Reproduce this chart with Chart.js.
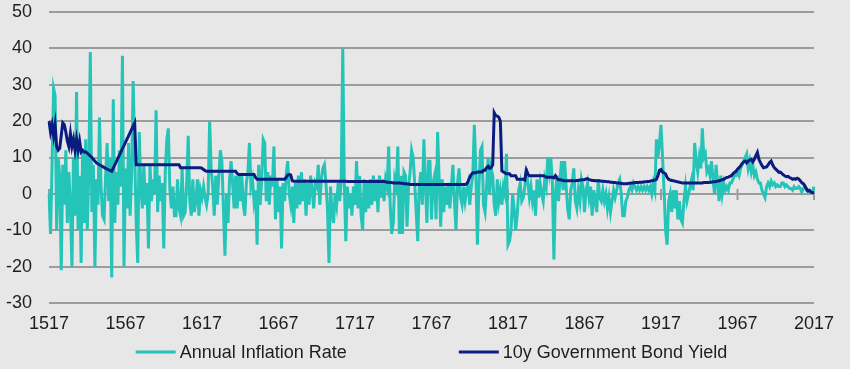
<!DOCTYPE html>
<html><head><meta charset="utf-8">
<script src="https://cdn.jsdelivr.net/npm/chart.js@4"></script>
<style>html,body{margin:0;padding:0;background:#e7e7e7;overflow:hidden}#wrap{width:850px;height:369px}</style>
</head><body><div id="wrap"><canvas id="c" width="850" height="369"></canvas></div>
<script>
const years = [];
for (let y = 1517; y <= 2017; y++) years.push(String(y));

const seriesNames = ['Annual Inflation Rate', '10y Government Bond Yield'];

const inflation = [
  0, -11, 8, 29, 27, -10, 10, 5, -21, 8,
  -3, 12, -8, 6, -4, -20, 10, -6, 28, -10,
  5, -19, 12, -8, 15, -10, 6, 39, -5, 8,
  -20, 4, -3, 21, 2, -6, -7, 5, 14, -2,
  10, -23, 26, -8, 6, -3, 12, 2, 38, -20,
  7, -4, 14, -6, 5, 31, 12, -8, -19, 17,
  2, -4, 8, -3, 3, -15, 8, -2, 4, 0,
  23, -5, 5, -2, 3, -15, 6, 15, 18, 1,
  -4, 2, -6, -6, 4, -4, -6, 7, -6, -5,
  3, 16, -2, -6, 4, -5, -2, 4, -6, 1,
  -1, 2, -1, -3, 0, 20, 7, 2, -6, 5,
  -3, 5, 12, 9, -4, -17, 0, -8, 4, 9,
  3, -4, 5, -4, 5, -2, 5, -3, -6, 3,
  6, 14, 2, 4, -2, 1, -14, 8, -3, 4,
  15, 14, -2, 6, -3, 5, 2, 13, -7, 4,
  -5, 2, -15, 3, -2, 5, 9, 0, -3, 2,
  -8, 3, -4, 5, -3, 6, -2, 4, -6, 3,
  -3, 5, 1, -4, 3, 2, 8, -3, 4, 7,
  8, 3, -4, -19, 2, -5, -8, 0, -3, 3,
  -2, 4, 40, 3, -13, 2, -4, 0, -6, 2,
  -3, 9, -4, 5, -6, -10, 4, -5, 3, -4,
  4, -3, 5, -2, 4, -5, 5, -1, 4, -2,
  4, 2, 13, -3, -11, -8, 4, 2, 13, -11,
  5, -11, 6, 5, -9, 2, 6, 12, 10, 3,
  -5, -13, 2, 6, -3, 15, 3, -8, 9, 9,
  -7, 3, 5, -7, 17, 4, -9, 4, -5, 2,
  -3, 3, -4, 2, 8, -2, -10, 3, 7, -1,
  -3, 2, -2, 1, 3, -3, 2, 5, 19, 6,
  -14, 2, 12, 13, -3, -5, 2, 10, 0, 7,
  5, -3, -6, 4, -2, 1, -3, 2, 0, 11,
  -14, -13, -10, 0, -4, -10, -6, 1, 3, -2,
  -1, 2, 7, 3, -1, 2, -2, 1, -6, 4,
  -1, 3, 0, -2, 4, 2, 10, 6, 10, 3,
  -18, 0, 5, -2, 4, 9, 1, 9, 2, -4,
  -7, 1, 3, 7, -2, -4, 1, -2, 4, 2,
  -5, 1, 3, -1, 2, -6, 1, -2, -5, 4,
  -1, -2, 1, -2, 0, -4, -1, -5, -2, 1,
  -1, 1, 3, 4, 0, -6, -6, -2, -1, 1,
  2, 1, 3, 2, 1, 2, 1, 2, 1, 2,
  1, 2, 1, 2, 0, 3, 1, 15, 10, 14,
  19, 10, 1, -10, -14, -2, 0, -5, 1, -4,
  1, -7, -2, -7, -8, -2, 2, -2, 0, 2,
  4, 1, 14, 9, 6, 10, 7, 18, 10, 11,
  6, 7, 5, 9, 4, 0, 8, 3, -2, 5,
  0, 3, 1, 2, 1, 3, 3, 4, 5, 5,
  6, 5, 7, 8, 9, 10, 11, 7, 9, 6,
  8, 5, 6, 4, 3, 3, 1, 0, -1, 2,
  3, 2, 3.5, 2.5, 3, 2, 2.5, 2, 2, 3,
  3, 2, 2.5, 2, 1.5, 1.5, 1, 2, 1.5, 1.5,
  2, 1.5, 0.5, 1.5, 2, 1, 1, 0.5, 0.3, 0.5,
  2
];

const bondYield = [
  20, 17, 19, 16, 19, 13, 12, 12.5, 16, 19.5,
  19, 17, 14.5, 13, 16.5, 13, 15, 12, 15, 12,
  14.5, 11.5, 12, 11.5, 11.5, 11.2, null, null, 10, null,
  null, 8.5, null, 8, null, null, null, 7, null, null,
  null, 6.2, null, null, null, null, null, null, null, null,
  null, null, null, null, null, null, 19.5, 8, 8, 8,
  8, 8, 8, 8, 8, 8, 8, 8, 8, 8,
  8, 8, 8, 8, 8, 8, 8, 8, 8, 8,
  8, 8, 8, 8, 8, 8, 7.2, 7.2, 7.2, 7.2,
  7.2, 7.2, 7.2, 7.2, 7.2, 7.2, 7.2, 7.2, 7.2, 7.2,
  7, 6.7, 6.4, 6.2, 6.2, 6.2, 6.2, 6.2, 6.2, 6.2,
  6.2, 6.2, 6.2, 6.2, 6.2, 6.2, 6.2, 6.2, 6.2, 6.2,
  6.2, 6.2, 6.2, 5.6, 5.3, 5.3, 5.3, 5.3, 5.3, 5.3,
  5.3, 5.3, 5.3, 5.3, 5.3, 4.5, 4, 4, 4, 4,
  4, 4, 4, 4, 4, 4, 4, 4, 4, 4,
  4, 4, 4, 4, 4, 4.5, 5.2, 5.3, 5.2, 3.6,
  3.5, 3.5, 3.5, 3.5, 3.5, 3.5, 3.5, 3.5, 3.5, 3.5,
  3.5, 3.5, 3.5, 3.5, 3.5, 3.5, 3.5, 3.5, 3.5, 3.5,
  3.5, 3.5, 3.5, 3.5, 3.5, 3.5, 3.5, 3.5, 3.5, 3.5,
  3.5, 3.5, 3.5, 3.5, 3.5, 3.4, 3.4, 3.4, 3.4, 3.4,
  3.4, 3.4, 3.4, 3.4, 3.4, 3.4, 3.4, 3.4, 3.4, 3.4,
  3.4, 3.4, 3.4, 3.4, 3.4, 3.4, 3.4, 3.4, 3.4, 3.4,
  3.3, 3.2, 3.2, 3.1, 3.1, 3.0, 3.0, 3.0, 3.0, 3.0,
  2.9, 2.9, 2.8, 2.8, 2.7, 2.7, 2.6, 2.6, 2.6, 2.6,
  2.6, 2.6, 2.6, 2.6, 2.6, 2.6, 2.6, 2.6, 2.6, 2.6,
  2.6, 2.6, 2.6, 2.6, 2.6, 2.6, 2.6, 2.6, 2.6, 2.6,
  2.6, 2.6, 2.6, 2.6, 2.6, 2.6, 2.6, 2.6, 2.6, 2.6,
  2.6, 2.6, 2.6, 2.7, 3.5, 4.5, 5.3, 5.8, 5.8, 5.8,
  6, 6, 6, 6, 6.5, 6.5, 7.2, 7.6, 7, 7.2,
  8, 22.3, 21.5, 21.4, 21, 20, 6.3, 6, 5.8, 5.5,
  5.5, 5.5, 5, 5, 5, 5, 4, 4, 4, 4,
  4, 3.8, 6.5, 5.5, 5, 5, 5, 5, 5, 5,
  5, 5, 5, 5, 4.8, 4.6, 4.6, 4.6, 4.6, 4.6,
  4.4, 5, 4.3, 3.9, 3.9, 3.8, 3.7, 3.6, 3.6, 3.6,
  3.6, 3.6, 3.6, 3.6, 3.6, 3.7, 3.7, 3.8, 3.8, 3.9,
  3.9, 4.1, 4.2, 3.9, 3.8, 3.7, 3.7, 3.6, 3.6, 3.6,
  3.6, 3.5, 3.5, 3.4, 3.4, 3.3, 3.3, 3.2, 3.2, 3.1,
  3.1, 3.0, 3.0, 2.9, 2.9, 2.8, 2.8, 2.8, 2.8, 2.9,
  2.9, 3.0, 3.0, 3.1, 3.1, 3.1, 3.2, 3.2, 3.2, 3.3,
  3.3, 3.4, 3.4, 3.5, 3.6, 3.7, 3.8, 4, 5, 6.5,
  6.7, 6, 5.8, 5.5, 4.5, 4, 3.8, 3.7, 3.6, 3.5,
  3.4, 3.3, 3.2, 3.1, 3.0, 3.0, 3.0, 3.0, 3.0, 3.0,
  3.0, 3.0, 3.0, 3.0, 3.0, 3.0, 3.0, 3.0, 3.1, 3.1,
  3.1, 3.1, 3.2, 3.2, 3.3, 3.3, 3.4, 3.5, 3.6, 3.8,
  3.9, 4, 4.3, 4.5, 4.6, 4.8, 5, 5.5, 5.9, 6.2,
  6.8, 7.2, 7.7, 8.3, 8.8, 9, 8.5, 9, 9.3, 9.5,
  8.8, 9.5, 10.5, 11.4, 9.5, 8.6, 7.8, 7.2, 7.3, 7.4,
  8, 8.6, 9, 8, 7.2, 6.8, 6.4, 5.9, 6, 5.6,
  5.2, 4.9, 4.7, 4.8, 4.5, 4.3, 4.0, 4.2, 4.0, 4.3,
  4.1, 3.6, 3.1, 2.8, 2.2, 1.5, 0.8, 1.0, 0.5, 0.3,
  0.4
];

const yMin = -30, yMax = 50, yStep = 10;
const xTickEvery = 50;

const FONT = '"Liberation Sans", Arial, Helvetica, sans-serif';
const TEXT = '#1e1e1e';
const GRID = '#9c9c9c';
const BG = '#e7e7e7';

const bgPlugin = {
  id: 'bg',
  beforeDraw(chart) {
    const c = chart.ctx;
    c.save(); c.fillStyle = BG; c.fillRect(0, 0, chart.width, chart.height); c.restore();
  }
};

const zeroTicks = {
  id: 'zeroTicks',
  beforeDatasetsDraw(chart) {
    const c = chart.ctx, xs = chart.scales.x, ys = chart.scales.y;
    const y0 = ys.getPixelForValue(0);
    c.save(); c.strokeStyle = GRID; c.lineWidth = 2; c.beginPath();
    for (let i = 0; i < years.length; i += xTickEvery) {
      const px = xs.getPixelForValue(i);
      c.moveTo(px, y0 - 5); c.lineTo(px, y0 + 6);
    }
    c.stroke(); c.restore();
  }
};

const legendPlugin = {
  id: 'customLegend',
  afterDraw(chart) {
    const c = chart.ctx, ca = chart.chartArea;
    c.save();
    c.font = '18px ' + FONT;
    const lineW = 40, gapT = 4, gapItem = 112;
    const items = chart.data.datasets.map(ds => ({ label: ds.label, color: ds.borderColor, w: c.measureText(ds.label).width }));
    const total = items.reduce((s, it) => s + lineW + gapT + it.w, 0) + gapItem * (items.length - 1);
    let x = (ca.left + ca.right) / 2 - total / 2;
    const y = 352;
    items.forEach(it => {
      c.strokeStyle = it.color; c.lineWidth = 3; c.beginPath();
      c.moveTo(x, y); c.lineTo(x + lineW, y); c.stroke();
      c.fillStyle = TEXT; c.textBaseline = 'middle'; c.textAlign = 'left';
      c.fillText(it.label, x + lineW + gapT, y + 1);
      x += lineW + gapT + it.w + gapItem;
    });
    c.restore();
  }
};

new Chart(document.getElementById('c'), {
  type: 'line',
  data: {
    labels: years,
    datasets: [
      { label: seriesNames[0], data: inflation, borderColor: '#25c4b8', backgroundColor: '#25c4b8',
        borderWidth: 3, pointRadius: 0, tension: 0, order: 2 },
      { label: seriesNames[1], data: bondYield, borderColor: '#0b1c80', backgroundColor: '#0b1c80',
        borderWidth: 3, pointRadius: 0, tension: 0, spanGaps: true, order: 1 }
    ]
  },
  options: {
    responsive: false,
    animation: false,
    events: [],
    layout: { padding: { top: 12, right: 36, bottom: 35, left: 0 } },
    plugins: { legend: { display: false }, tooltip: { enabled: false }, title: { display: false } },
    scales: {
      x: {
        grid: { display: false },
        border: { display: false },
        ticks: {
          autoSkip: false, maxRotation: 0, minRotation: 0, padding: 2,
          color: TEXT, font: { family: FONT, size: 18 },
          callback: function (v, i) { return i % xTickEvery === 0 ? this.getLabelForValue(v) : null; }
        },
        afterFit: s => { s.height = 31; s.paddingLeft = 0; s.paddingRight = 0; }
      },
      y: {
        min: yMin, max: yMax,
        grid: { color: GRID, lineWidth: 2, drawTicks: false },
        border: { display: false },
        ticks: { stepSize: yStep, padding: 17, color: TEXT, font: { family: FONT, size: 18 } },
        afterFit: s => { s.width = 49; s.paddingTop = 0; s.paddingBottom = 0; }
      }
    }
  },
  plugins: [bgPlugin, zeroTicks, legendPlugin]
});
</script>
</body></html>
